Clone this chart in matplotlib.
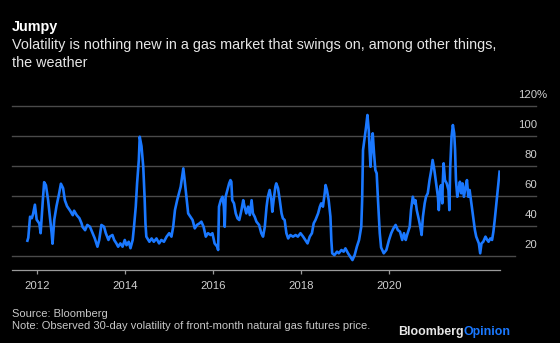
import matplotlib
matplotlib.use("Agg")
import matplotlib.pyplot as plt
from matplotlib import transforms

plt.rcParams['font.family'] = ['Liberation Sans', 'DejaVu Sans']

fechas = [
    2011.79, 2011.81, 2011.85, 2011.89, 2011.92, 2011.96, 2012.00, 2012.06, 2012.09, 2012.14,
    2012.17, 2012.21, 2012.26, 2012.30, 2012.34, 2012.36, 2012.40, 2012.45, 2012.51, 2012.55,
    2012.60, 2012.64, 2012.69, 2012.76, 2012.82, 2012.85, 2012.91, 2012.97, 2013.02, 2013.04,
    2013.10, 2013.15, 2013.21, 2013.27, 2013.32, 2013.38, 2013.42, 2013.47, 2013.53, 2013.57,
    2013.63, 2013.66, 2013.72, 2013.76, 2013.81, 2013.85, 2013.90, 2013.95, 2014.00, 2014.04,
    2014.09, 2014.13, 2014.18, 2014.21, 2014.25, 2014.28, 2014.32, 2014.34, 2014.38, 2014.42,
    2014.45, 2014.47, 2014.49, 2014.56, 2014.61, 2014.66, 2014.72, 2014.78, 2014.83, 2014.89,
    2014.95, 2015.01, 2015.06, 2015.10, 2015.14, 2015.19, 2015.24, 2015.27, 2015.33, 2015.36,
    2015.40, 2015.44, 2015.49, 2015.54, 2015.59, 2015.64, 2015.70, 2015.74, 2015.79, 2015.84,
    2015.89, 2015.95, 2015.99, 2016.04, 2016.10, 2016.12, 2016.14, 2016.18, 2016.22, 2016.25,
    2016.27, 2016.29, 2016.33, 2016.37, 2016.40, 2016.42, 2016.44, 2016.48, 2016.52, 2016.56,
    2016.60, 2016.65, 2016.69, 2016.72, 2016.76, 2016.80, 2016.84, 2016.88, 2016.91, 2016.95,
    2016.99, 2017.05, 2017.10, 2017.14, 2017.18, 2017.22, 2017.25, 2017.29, 2017.33, 2017.35,
    2017.38, 2017.42, 2017.44, 2017.48, 2017.52, 2017.56, 2017.59, 2017.63, 2017.67, 2017.71,
    2017.76, 2017.82, 2017.88, 2017.93, 2017.99, 2018.05, 2018.10, 2018.15, 2018.20, 2018.25,
    2018.29, 2018.33, 2018.39, 2018.43, 2018.46, 2018.50, 2018.54, 2018.56, 2018.59, 2018.63,
    2018.67, 2018.69, 2018.71, 2018.76, 2018.82, 2018.86, 2018.92, 2018.97, 2019.01, 2019.07,
    2019.12, 2019.17, 2019.22, 2019.27, 2019.32, 2019.37, 2019.39, 2019.41, 2019.44, 2019.48,
    2019.51, 2019.54, 2019.56, 2019.58, 2019.61, 2019.63, 2019.66, 2019.69, 2019.72, 2019.75,
    2019.79, 2019.82, 2019.88, 2019.94, 2020.00, 2020.05, 2020.10, 2020.15, 2020.20, 2020.25,
    2020.30, 2020.34, 2020.38, 2020.41, 2020.47, 2020.50, 2020.54, 2020.58, 2020.60, 2020.63,
    2020.68, 2020.71, 2020.74, 2020.77, 2020.81, 2020.84, 2020.88, 2020.92, 2020.96, 2020.99,
    2021.03, 2021.07, 2021.11, 2021.13, 2021.16, 2021.18, 2021.21, 2021.22, 2021.24, 2021.27,
    2021.31, 2021.35, 2021.37, 2021.39, 2021.42, 2021.45, 2021.48, 2021.50, 2021.52, 2021.55,
    2021.58, 2021.61, 2021.64, 2021.67, 2021.70, 2021.74, 2021.77, 2021.80, 2021.83, 2021.86,
    2021.89, 2021.92, 2021.95, 2021.98, 2022.01, 2022.04, 2022.07, 2022.10, 2022.14, 2022.19,
    2022.23, 2022.26, 2022.30, 2022.34, 2022.37, 2022.40, 2022.43, 2022.46, 2022.49, 2022.51,
]
volatilidad = [
    30, 32, 46, 45, 48, 54, 44, 41.5, 35, 57,
    69, 67, 57, 46, 35, 28, 44, 53, 61.5, 68,
    65, 57, 53, 50, 47, 50, 47, 45, 41.5, 39.3,
    37, 40.5, 39.3, 35, 31.5, 26, 30.5, 40.5, 39.3, 35,
    30.5, 32.7, 33.8, 30.5, 28.2, 26, 28.2, 26, 30.5, 27,
    29.3, 25, 30.5, 39.3, 52.7, 68.2, 84, 99.3, 93, 79.3,
    59.3, 41.6, 32.7, 29.3, 31.5, 29.3, 31.5, 28.2, 30.5, 29.3,
    32.7, 35, 32.7, 39.3, 50.4, 57, 62.7, 66, 78.2, 70.4,
    59.3, 48.2, 46, 43.8, 38.2, 40.5, 41.6, 42.7, 39.3, 32.7,
    35, 33.8, 35, 28.2, 26, 23.8, 52.7, 57, 59.3, 52.7,
    39.3, 59.3, 63.8, 68.2, 70.4, 69.3, 57, 54.9, 48.2, 44.9,
    43.8, 50.4, 57, 52.7, 48.2, 52.7, 47.1, 57, 48.2, 46,
    42.7, 40.5, 35, 32.7, 39.3, 52.7, 59.3, 63.8, 57, 49.3,
    57, 66, 68.2, 65, 57, 48.2, 44.9, 43.8, 35, 31.5,
    33.8, 32.7, 33.8, 32.7, 35, 32.7, 30.5, 28.2, 32.7, 35,
    41.6, 43.8, 48.2, 52.7, 54.9, 52.7, 61.6, 67.1, 63.8, 57,
    46, 30.5, 21.6, 20.4, 22.7, 21.6, 23.8, 22.7, 24.9, 21.6,
    19.3, 17.1, 20.4, 26, 30.5, 39.3, 57, 90.4, 97.1, 106,
    113.8, 103.8, 90.4, 79.3, 95, 101.6, 88.2, 77.1, 74.9, 57,
    35, 25.5, 21.6, 23.8, 30.5, 35, 38.2, 40.5, 37.1, 36,
    30.5, 35, 30.5, 33.8, 39.3, 50.4, 59.3, 54.9, 57, 50.4,
    43.8, 39.3, 33.8, 46, 54.9, 59.3, 61.6, 70.4, 77.1, 83.8,
    77.1, 68.2, 59.3, 50.4, 64.9, 67, 54.9, 68.2, 81.6, 70.4,
    68.2, 63.8, 50.4, 79.3, 99.3, 107.1, 101.6, 90.4, 70.4, 59.3,
    63.8, 69.3, 61.6, 68.2, 59.3, 66, 70.4, 59.3, 63.8, 57,
    50.4, 43.8, 37.1, 32.7, 30.5, 28.2, 21.6, 28.2, 29.3, 32.7,
    30.5, 29.3, 31.5, 30.5, 36, 43.8, 52.7, 61.6, 70.4, 76,
]

anios_ticks = [2012, 2014, 2016, 2018, 2020]
niveles_y = [20, 40, 60, 80, 100, 120]

AZUL = '#1a78ff'
W, H = 560, 343

fig = plt.figure(figsize=(W / 100, H / 100), dpi=100, facecolor='black')
ax = fig.add_axes([12 / W, 1 - 270 / H, 488 / W, 164.3 / H])
ax.set_facecolor('black')

# lineas de la cuadricula (se salen del eje a la derecha, bajo las etiquetas)
for nivel in niveles_y:
    fin = 1.0307 if nivel == 20 else 1.0738
    ax.plot([0, fin], [nivel, nivel], color='#4a4a4a', lw=1.0,
            transform=ax.get_yaxis_transform(), clip_on=False, zorder=1)

ax.plot(fechas, volatilidad, color=AZUL, lw=1.9, zorder=3, solid_joinstyle='round')

ax.set_xlim(2011.44, 2022.52)
ax.set_ylim(10.47, 120)

for s in ['top', 'right', 'left']:
    ax.spines[s].set_visible(False)
ax.spines['bottom'].set_color('#9a9a9a')
ax.spines['bottom'].set_linewidth(0.9)

ax.set_yticks([])
ax.set_xticks(anios_ticks)
ax.set_xticklabels([str(a) for a in anios_ticks])
ax.tick_params(axis='x', colors='#9a9a9a', length=3, width=0.9, pad=5,
               labelsize=8.2, labelcolor='#d0d0d0')

# etiquetas del eje y encima de cada linea
off = transforms.offset_copy(ax.get_yaxis_transform(), fig=fig, x=0, y=8, units='dots')
for nivel in niveles_y:
    ax.text(1.0758, nivel, str(nivel), transform=off, ha='right', va='baseline',
            fontsize=8.2, color='#d0d0d0', clip_on=False)
    if nivel == 120:
        ax.text(1.0758, nivel, '%', transform=off, ha='left', va='baseline',
                fontsize=8.2, color='#d0d0d0', clip_on=False)

# titulos
fig.text(12 / W, 1 - 31 / H, 'Jumpy', fontsize=10.4, fontweight='bold',
         color='white', va='baseline')
fig.text(12 / W, 1 - 49.3 / H,
         'Volatility is nothing new in a gas market that swings on, among other things,',
         fontsize=10.4, color='#e6e6e6', va='baseline')
fig.text(12 / W, 1 - 66.7 / H, 'the weather', fontsize=10.4, color='#e6e6e6', va='baseline')

# fuente y nota
fig.text(12 / W, 1 - 316.7 / H, 'Source: Bloomberg', fontsize=8, color='#c8c8c8', va='baseline')
fig.text(12 / W, 1 - 328.6 / H,
         'Note: Observed 30-day volatility of front-month natural gas futures price.',
         fontsize=8, color='#c8c8c8', va='baseline')

# logo
t_op = fig.text(511 / W, 1 - 335 / H, 'Opinion', fontsize=8.9, fontweight='bold',
                color=AZUL, ha='right', va='baseline')
fig.canvas.draw()
bb = t_op.get_window_extent(renderer=fig.canvas.get_renderer())
fig.text(bb.x0 / W, 1 - 335 / H, 'Bloomberg', fontsize=8.9, fontweight='bold',
         color='#e6e6e6', ha='right', va='baseline')

fig.savefig('out.png', dpi=100, facecolor='black')
